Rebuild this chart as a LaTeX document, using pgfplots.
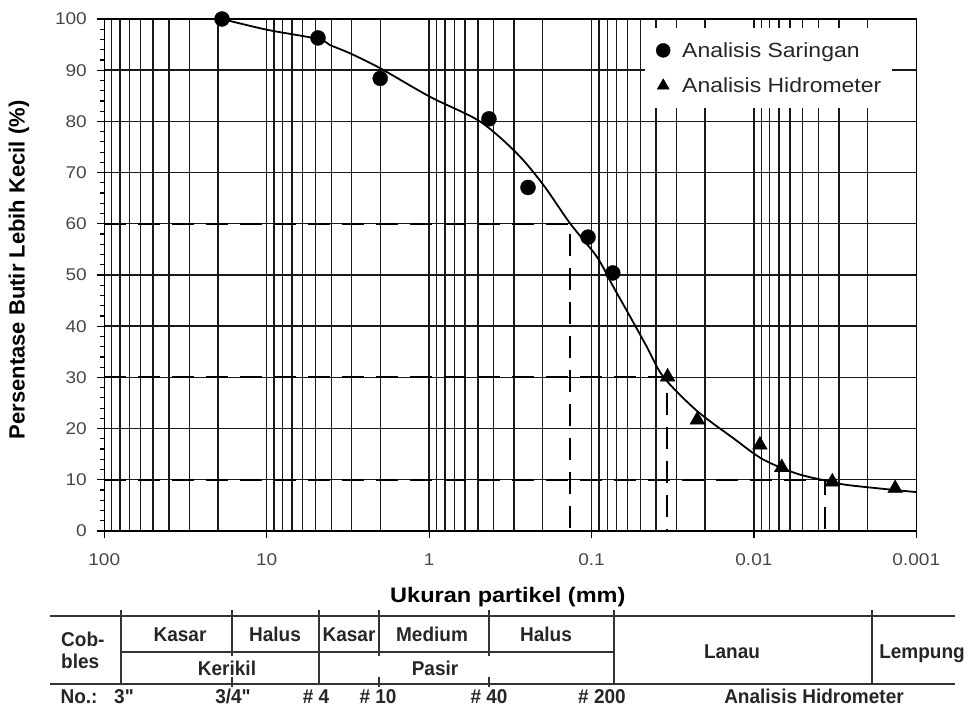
\documentclass[border=0pt]{standalone}
\usepackage{fontspec}
\setmainfont{Liberation Sans}
\newfontfamily\widesf[FakeStretch=1.12]{Liberation Sans}
\newfontfamily\tablesf[FakeStretch=0.95]{Liberation Sans}
\usepackage{pgfplots}
\pgfplotsset{compat=1.18}

\pgfplotstableread{
x y
18.85 100
9.96 97.9
4.83 96.1
4.07 94.9
3.07 93.3
2.005 90.4
0.987 84.8
0.487 80.0
0.289 73.8
0.198 67.6
0.1357 60.1
0.0929 53.6
0.0734 47.7
0.0579 41.9
0.0457 36.0
0.0361 30.1
0.0225 23.5
0.01349 18.2
0.00881 14.0
0.00544 11.2
0.00356 9.8
0.00268 9.0
0.001355 8.0
0.001 7.6
}\curvedata

\pgfplotstableread{
x y
18.85 100
4.83 96.3
2.0 88.4
0.428 80.5
0.246 67.1
0.105 57.4
0.074 50.4
}\saringan

\pgfplotstableread{
x y
0.0340 30.1
0.0223 21.7
0.00918 16.8
0.00674 12.4
0.00329 9.6
0.00135 8.3
}\hidrometer

\begin{document}
\begin{tikzpicture}
\useasboundingbox (0,0) rectangle (969pt,708pt);
\begin{axis}[
  at={(104.3pt,177pt)}, anchor=south west,
  scale only axis, width=812pt, height=512pt,
  xmode=log, x dir=reverse, xmin=0.001, xmax=100,
  ymin=0, ymax=100,
  xtick={0.001,0.01,0.1,1,10,100},
  xticklabels={0.001,0.01,0.1,1,10,100},
  ytick={0,10,...,100},
  yticklabels={0,10,20,30,40,50,60,70,80,90,100},
  xmajorgrids, xminorgrids, ymajorgrids,
  major grid style={black!90, line width=1.4pt},
  minor grid style={black!90, line width=1.4pt},
  tick align=outside, xtick pos=left, ytick pos=left,
  major tick length=7pt, minor tick length=0pt,
  tick style={black, line width=1.2pt},
  axis line style={black, line width=1.4pt},
  xticklabel style={font=\widesf\fontsize{17}{19}\selectfont, text=black!72, yshift=-12pt},
  yticklabel style={font=\widesf\fontsize{17}{19}\selectfont, text=black!72, xshift=-7pt},
  xlabel={Ukuran partikel (mm)},
  xlabel style={font=\widesf\bfseries\fontsize{21}{24}\selectfont, at={(axis description cs:0.497,-0.129)}, anchor=center},
  ylabel={Persentase Butir Lebih Kecil (\%)},
  ylabel style={font=\bfseries\fontsize{22}{24}\selectfont, at={(axis description cs:-0.105,0.51)}, anchor=center},
  legend style={at={(axis description cs:0.6659,0.9824)}, anchor=north west,
    draw=none, fill=white, font=\widesf\fontsize{20.5}{22}\selectfont, text=black!85,
    inner xsep=11pt, inner ysep=14pt, row sep=19pt, column sep=12pt,
    nodes={inner sep=0pt}},
  legend cell align=left,
  legend image code/.code={\draw[#1, mark size=7pt] plot coordinates {(7pt,0pt)};},
]
\addplot[black, line width=2.2pt, dash pattern=on 22pt off 12pt, forget plot] coordinates {(100,60) (0.1357,60) (0.1357,0)};
\addplot[black, line width=2.2pt, dash pattern=on 22pt off 12pt, forget plot] coordinates {(100,30) (0.0342,30) (0.0342,0)};
\addplot[black, line width=2.2pt, dash pattern=on 22pt off 12pt, forget plot] coordinates {(100,10) (0.00365,10) (0.00365,0)};
\addplot[black, line width=1.8pt, smooth, forget plot] table[x=x,y=y] {\curvedata};
\addplot[only marks, mark=*, mark size=7.5pt, black, mark options={scale=1}] table[x=x,y=y] {\saringan};
\addlegendentry{Analisis Saringan}
\addplot[only marks, mark=triangle*, mark size=8.5pt, black] table[x=x,y=y] {\hidrometer};
\addlegendentry{Analisis Hidrometer}
\end{axis}
\begin{axis}[
  at={(104.3pt,177pt)}, anchor=south west,
  scale only axis, width=812pt, height=512pt,
  xmin=0, xmax=1, ymin=0, ymax=100,
  hide x axis, axis y line*=left,
  ytick={0,10,...,100}, yticklabels={},
  minor y tick num=4,
  tick align=outside, major tick length=7pt, minor tick length=4pt,
  tick style={black, line width=1.2pt},
  axis line style={black, line width=1.4pt},
]
\end{axis}
\begin{scope}[yshift=708pt, x=1pt, y=-1pt, line cap=butt]
  \draw[black!80, line width=2.2pt] (50,616) -- (955,616);
  \draw[black!80, line width=2.2pt] (50,684) -- (955,684);
  \draw[black!80, line width=1.8pt] (121,652) -- (614,652);
  \foreach \xx in {121,319,614,872} {\draw[black!80, line width=1.6pt] (\xx,610) -- (\xx,684);}
  \foreach \xx in {232,379,489} {\draw[black!80, line width=1.6pt] (\xx,610) -- (\xx,656);
     \draw[black!80, line width=1.6pt] (\xx,677) -- (\xx,687);}
  \begin{scope}[every node/.style={font=\tablesf\bfseries\fontsize{20}{22}\selectfont, text=black!85, inner sep=0pt, anchor=base}]
  \node[anchor=base west] at (61,647) {Cob-};
  \node[anchor=base west] at (61,669) {bles};
  \node at (180,642) {Kasar};
  \node at (275,642) {Halus};
  \node at (349,642) {Kasar};
  \node at (432,642) {Medium};
  \node at (546,642) {Halus};
  \node at (227,676) {Kerikil};
  \node at (435,676) {Pasir};
  \node at (732,659) {Lanau};
  \node at (922,659) {Lempung};
  \node at (79,704) {No.:};
  \node at (124,704) {3"};
  \node at (233,704) {3/4"};
  \node at (316,704) {\# 4};
  \node at (378,704) {\# 10};
  \node at (489,704) {\# 40};
  \node at (602,704) {\# 200};
  \node at (814,704) {Analisis Hidrometer};
  \end{scope}
\end{scope}
\end{tikzpicture}
\end{document}
